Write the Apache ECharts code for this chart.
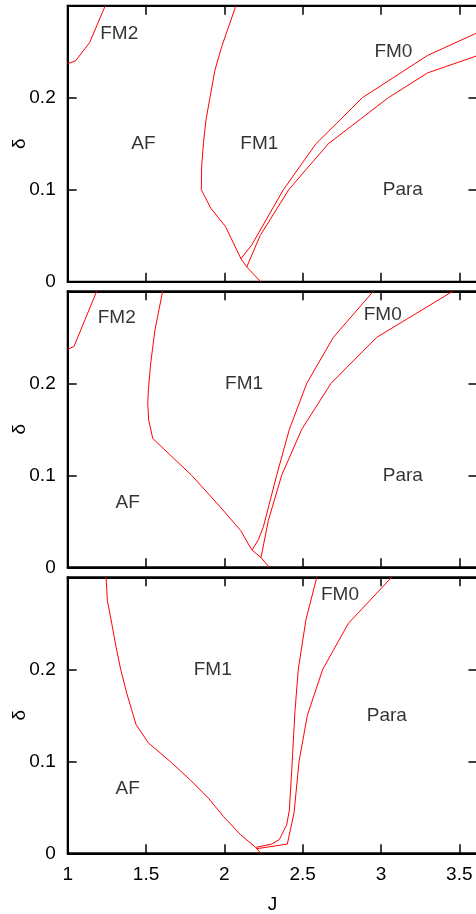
<!DOCTYPE html>
<html>
<head>
<meta charset="utf-8">
<script src="https://cdn.jsdelivr.net/npm/echarts@6/dist/echarts.min.js"></script>
<style>
  html, body { margin: 0; padding: 0; background: #fff; }
  #chart { width: 476px; height: 914px; }
</style>
</head>
<body>
<div id="chart"></div>
<script>
// 相图数据 (J, δ)
const jMin = 1
const jMax = 3.616
const dMax = 0.3

// panel 1
const p1FM2 = [[1.0, 0.237], [1.05, 0.24], [1.14, 0.26], [1.24, 0.3]]
const p1AF = [[2.074, 0.3], [2.027, 0.277], [1.983, 0.2555], [1.94, 0.23], [1.908, 0.2], [1.883, 0.176],
  [1.866, 0.15], [1.855, 0.125], [1.853, 0.1], [1.913, 0.08], [2.007, 0.06], [2.106, 0.025],
  [2.143, 0.016], [2.232, 0]]
const p1FM0 = [[2.106, 0.025], [2.175, 0.04], [2.377, 0.1], [2.585, 0.15], [2.881, 0.2], [3.298, 0.246], [3.62, 0.271]]
const p1Para = [[2.143, 0.016], [2.228, 0.05], [2.411, 0.1], [2.664, 0.15], [3.047, 0.2], [3.298, 0.227], [3.62, 0.246]]
const p1Labels = [['FM2', 1.329, 0.27], ['AF', 1.483, 0.15], ['FM1', 2.223, 0.15], ['FM0', 3.079, 0.25], ['Para', 3.139, 0.1]]

// panel 2
const p2FM2 = [[1.0, 0.237], [1.04, 0.24], [1.185, 0.3]]
const p2AF = [[1.606, 0.3], [1.557, 0.258], [1.53, 0.222], [1.515, 0.193], [1.511, 0.178], [1.517, 0.16],
  [1.543, 0.14], [1.791, 0.1], [1.972, 0.066], [2.104, 0.04], [2.175, 0.019], [2.234, 0.0105], [2.287, 0]]
const p2FM0 = [[2.178, 0.019], [2.217, 0.03], [2.249, 0.044], [2.334, 0.1], [2.415, 0.15], [2.526, 0.2], [2.696, 0.25], [2.951, 0.3]]
const p2Para = [[2.234, 0.0105], [2.281, 0.051], [2.366, 0.1], [2.494, 0.15], [2.681, 0.2], [2.973, 0.25], [3.458, 0.3]]
const p2Labels = [['FM2', 1.313, 0.271], ['FM1', 2.126, 0.2], ['FM0', 3.011, 0.275], ['Para', 3.139, 0.1], ['AF', 1.383, 0.07]]

// panel 3
const p3AF = [[1.245, 0.3], [1.253, 0.275], [1.281, 0.25], [1.308, 0.225], [1.338, 0.2], [1.377, 0.174],
  [1.408, 0.156], [1.436, 0.14], [1.515, 0.12], [1.653, 0.1], [1.781, 0.08], [1.898, 0.06],
  [1.994, 0.04], [2.105, 0.02], [2.2, 0.0065], [2.232, 0]]
const p3FM0 = [[2.202, 0.0065], [2.302, 0.01], [2.351, 0.015], [2.398, 0.031], [2.415, 0.047], [2.43, 0.09],
  [2.451, 0.155], [2.472, 0.2], [2.521, 0.254], [2.59, 0.3]]
const p3Para = [[2.207, 0.005], [2.402, 0.01], [2.445, 0.044], [2.477, 0.1], [2.53, 0.15], [2.628, 0.2], [2.792, 0.25], [3.068, 0.3]]
const p3Labels = [['FM0', 2.738, 0.281], ['FM1', 1.926, 0.2], ['Para', 3.037, 0.15], ['AF', 1.383, 0.07]]

const panels = [
  { lines: [p1FM2, p1AF, p1FM0, p1Para], labels: p1Labels },
  { lines: [p2FM2, p2AF, p2FM0, p2Para], labels: p2Labels },
  { lines: [p3AF, p3FM0, p3Para], labels: p3Labels }
]

const font = "'Liberation Sans', Arial, Helvetica, sans-serif"
const gridTops = [5.7, 291.3, 577.3]
const axisLine = { show: true, onZero: false, lineStyle: { color: '#000', width: 2 } }
const tick = { show: true, inside: true, length: 9, lineStyle: { color: '#000', width: 1.5 } }

const chart = echarts.init(document.getElementById('chart'))

// 外框用 grid 边框画，保证上边线存在
const grid = gridTops.map(t => ({
  left: 67.7, top: t, width: 409.8, height: 276,
  containLabel: false, outerBoundsMode: 'none',
  show: true, borderColor: '#000', borderWidth: 2, backgroundColor: 'transparent'
}))
const xAxis = []
const yAxis = []
const series = []

panels.forEach((p, i) => {
  const last = i === panels.length - 1
  xAxis.push({
    type: 'value', gridIndex: i, min: jMin, max: jMax, interval: 0.5, position: 'bottom',
    axisLine, axisTick: tick, splitLine: { show: false },
    axisLabel: { show: last, showMaxLabel: false, margin: 12, color: '#000', fontSize: 19, fontFamily: font },
    name: last ? 'J' : '', nameLocation: 'middle', nameGap: 42,
    nameTextStyle: { color: '#000', fontSize: 19, fontFamily: font }
  })
  xAxis.push({
    type: 'value', gridIndex: i, min: jMin, max: jMax, interval: 0.5, position: 'top',
    axisLine, axisTick: tick, axisLabel: { show: false }, splitLine: { show: false }
  })
  yAxis.push({
    type: 'value', gridIndex: i, min: 0, max: dMax, interval: 0.1, position: 'left',
    axisLine, axisTick: tick, splitLine: { show: false },
    axisLabel: { showMaxLabel: false, margin: 12, color: '#000', fontSize: 19, fontFamily: font },
    name: 'δ', nameLocation: 'middle', nameGap: 38, nameRotate: 90, nameMoveOverlap: false,
    nameTextStyle: { color: '#000', fontSize: 19, fontFamily: font }
  })
  yAxis.push({
    type: 'value', gridIndex: i, min: 0, max: dMax, interval: 0.1, position: 'right',
    axisLine, axisTick: tick, axisLabel: { show: false }, splitLine: { show: false }
  })

  p.lines.forEach(d => {
    series.push({
      type: 'line', xAxisIndex: i * 2, yAxisIndex: i * 2, data: d,
      symbol: 'none', lineStyle: { color: '#ff0000', width: 1 }, silent: true
    })
  })

  series.push({
    type: 'scatter', xAxisIndex: i * 2, yAxisIndex: i * 2, symbolSize: 0, silent: true,
    data: p.labels.map(l => ({ name: l[0], value: [l[1], l[2]] })),
    label: {
      show: true, position: 'inside', formatter: '{b}',
      color: '#000', fontSize: 19, fontFamily: font
    }
  })
})

chart.setOption({
  animation: false,
  grid,
  xAxis,
  yAxis,
  series
})
</script>
</body>
</html>
